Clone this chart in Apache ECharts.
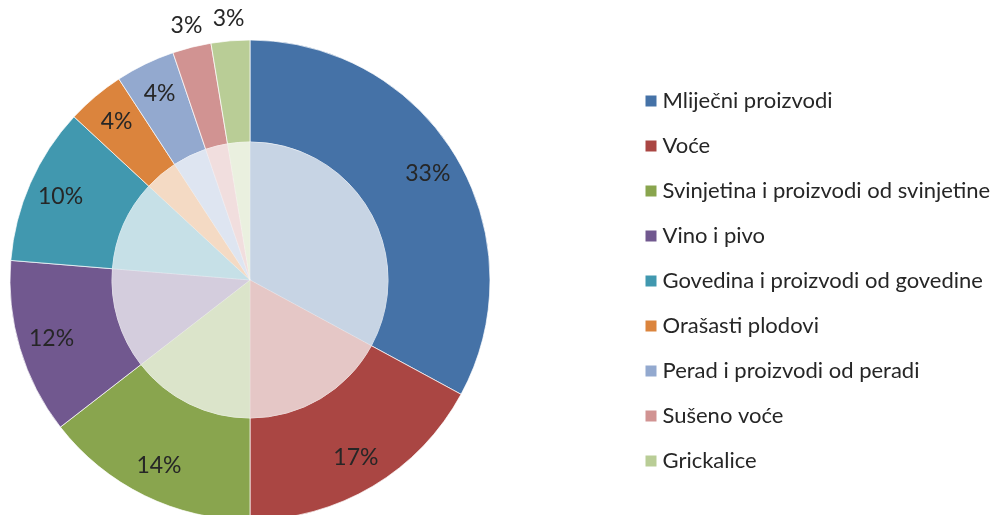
<!DOCTYPE html>
<html>
<head>
<meta charset="utf-8">
<script src="https://cdn.jsdelivr.net/npm/echarts@6/dist/echarts.min.js"></script>
<style>
html,body{margin:0;padding:0;background:#fff;}
#chart{width:996px;height:515px;}
</style>
</head>
<body>
<div id="chart"></div>
<script>
var categories = ['Mliječni proizvodi','Voće','Svinjetina i proizvodi od svinjetine','Vino i pivo','Govedina i proizvodi od govedine','Orašasti plodovi','Perad i proizvodi od peradi','Sušeno voće','Grickalice'];
var shares = [32.9, 17.1, 14.5, 11.8, 10.6, 3.9, 4.0, 2.6, 2.6];
var percentLabels = ['33%','17%','14%','12%','10%','4%','4%','3%','3%'];
var colors = ['#4572A7','#AA4643','#89A54E','#71588F','#4198AF','#DB843D','#93A9CF','#D19392','#B9CD96'];
var outsideLabel = [false,false,false,false,false,false,false,true,true];

var FONT = 'Lato';
var TXT = '#262626';

function data(opts) {
  return categories.map(function (n, i) {
    var d = { name: n, value: shares[i] };
    if (opts) opts(d, i);
    return d;
  });
}

var chart = echarts.init(document.getElementById('chart'));
chart.setOption({
  backgroundColor: '#fff',
  animation: false,
  color: colors,
  legend: {
    orient: 'vertical',
    left: 643.5,
    top: 90,
    padding: 0,
    icon: 'rect',
    itemWidth: 13,
    itemHeight: 13,
    itemGap: 23,
    textStyle: { fontFamily: FONT, fontSize: 22, color: TXT, lineHeight: 22 },
    data: categories
  },
  series: [
    {
      type: 'pie', silent: true, startAngle: 90, clockwise: true,
      center: [250, 280], radius: [138, 240],
      label: { show: false }, labelLine: { show: false },
      itemStyle: { borderColor: '#fff', borderWidth: 0.7 },
      data: data()
    },
    {
      type: 'pie', silent: true, startAngle: 90, clockwise: true,
      center: [250, 280], radius: [0, 138],
      label: { show: false }, labelLine: { show: false },
      itemStyle: { opacity: 0.3, borderColor: '#fff', borderWidth: 0.7 },
      data: data()
    },
    {
      type: 'pie', silent: true, startAngle: 90, clockwise: true,
      center: [250, 280], radius: [160, 248],
      itemStyle: { color: 'rgba(0,0,0,0)' },
      labelLine: { show: false },
      label: {
        position: 'inside', fontFamily: FONT, fontSize: 23, color: TXT,
        formatter: function (p) { return percentLabels[p.dataIndex]; }
      },
      data: data(function (d, i) { d.label = { show: !outsideLabel[i] }; })
    },
    {
      type: 'pie', silent: true, startAngle: 90, clockwise: true,
      center: [250, 280], radius: [230, 288],
      itemStyle: { color: 'rgba(0,0,0,0)' },
      labelLine: { show: false },
      label: {
        position: 'inside', fontFamily: FONT, fontSize: 23, color: TXT,
        formatter: function (p) { return percentLabels[p.dataIndex]; }
      },
      data: data(function (d, i) { d.label = { show: outsideLabel[i] }; })
    }
  ]
});
</script>
</body>
</html>
